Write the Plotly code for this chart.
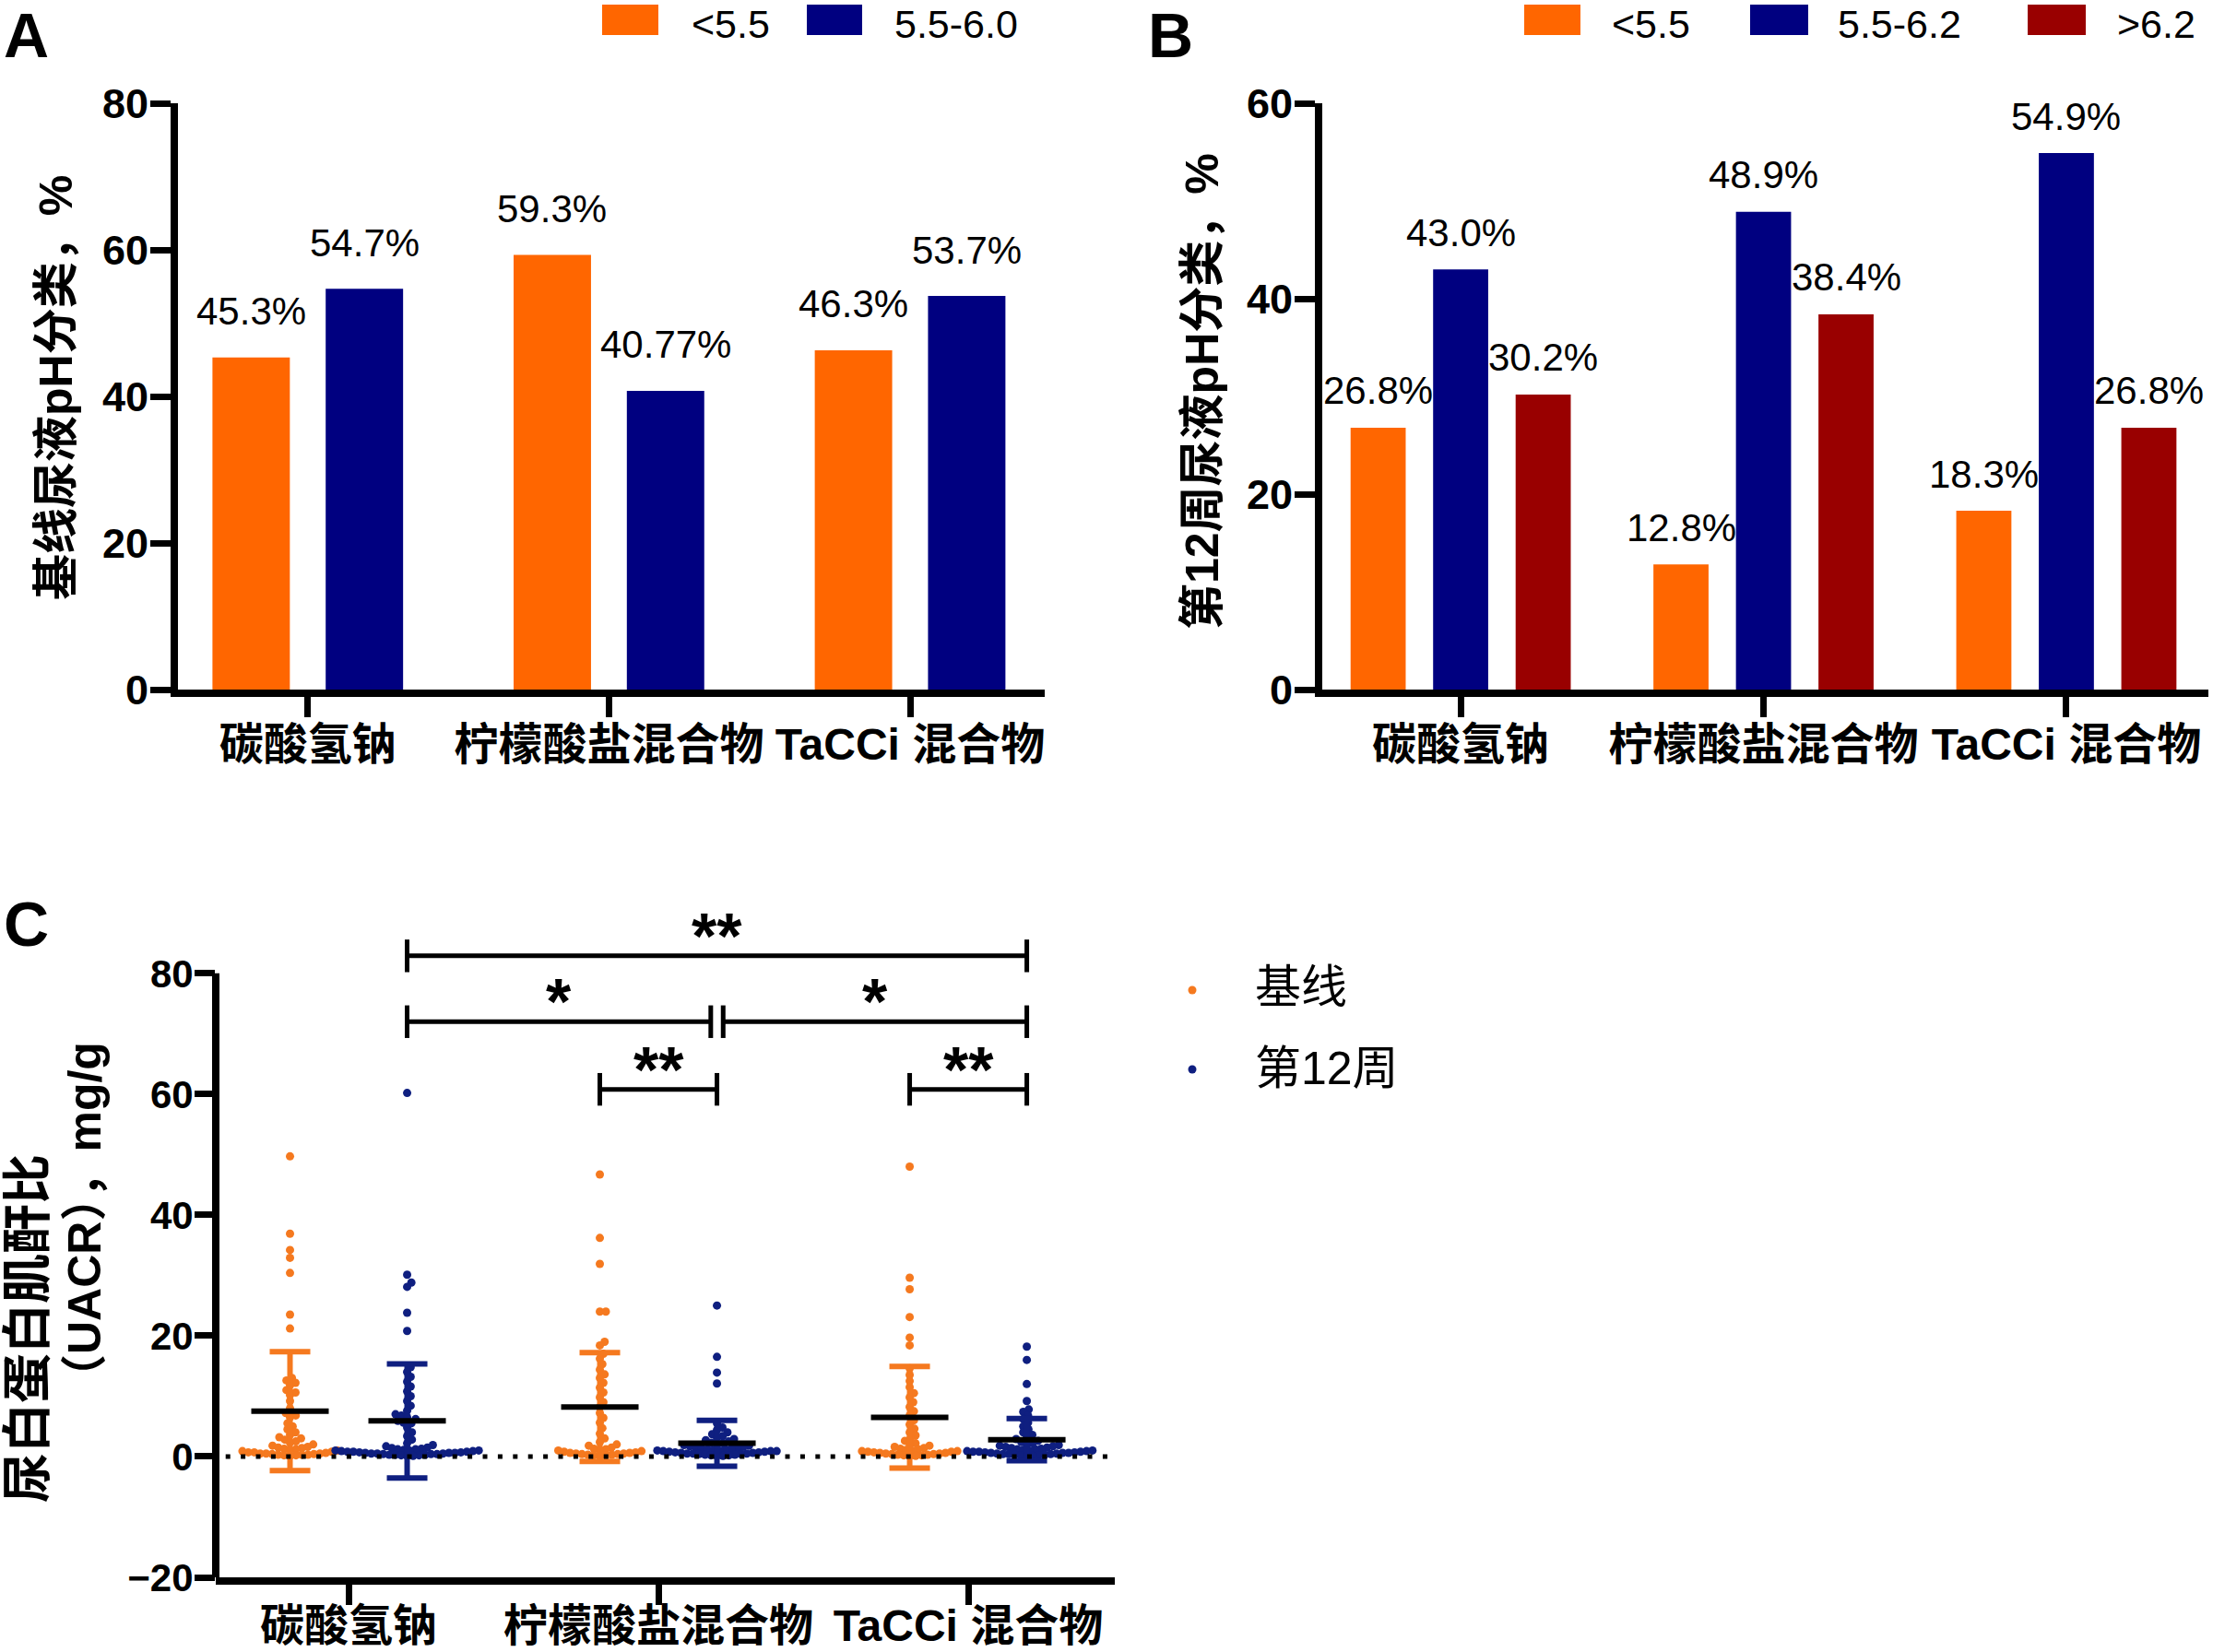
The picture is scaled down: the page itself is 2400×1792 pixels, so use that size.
import numpy as np
import plotly.graph_objects as go

W, H = 2400, 1792
FONT = "Liberation Sans, Arial, Noto Sans CJK SC, sans-serif"

# ---------------- data ----------------
categories = ["碳酸氢钠", "柠檬酸盐混合物", "TaCCi 混合物"]

a_series = ["<5.5", "5.5-6.0"]
a_lt55 = [45.3, 59.3, 46.3]
a_55_60 = [54.7, 40.77, 53.7]
a_ticks = [0, 20, 40, 60, 80]

b_series = ["<5.5", "5.5-6.2", ">6.2"]
b_lt55 = [26.8, 12.8, 18.3]
b_55_62 = [43.0, 48.9, 54.9]
b_gt62 = [30.2, 38.4, 26.8]
b_ticks = [0, 20, 40, 60]

c_series = ["基线", "第12周"]
c_ticks = [-20, 0, 20, 40, 60, 80]
c_base_0 = [49.7, 36.9, 34.2, 32.9, 30.4, 23.5, 21.2,
            13.0, 12.6, 12.2, 11.8, 11.0, 10.6, 10.2, 9.2, 8.0, 7.2, 6.8, 6.5, 5.5, 5.0, 4.5,
            4.0, 3.6, 3.2, 3.0, 2.8, 2.5, 2.3, 2.0, 1.8, 1.6, 1.5, 1.4, 1.3, 1.2, 1.1, 1.0,
            0.9, 0.8, 0.7, 0.7, 0.6, 0.5, 0.5, 0.5, 0.4, 0.4, 0.3, 0.3, 0.3, 0.2, 0.2, 0.1]
c_w12_0 = [60.2, 30.1, 28.8, 28.1, 23.8, 20.8,
           14.8, 14.0, 13.2, 12.4, 11.6, 10.8, 10.0, 9.2, 8.4, 7.6, 7.0, 6.8, 6.5, 6.2, 5.9,
           5.6, 5.5, 4.8, 4.0, 3.4, 2.8,
           2.2, 1.9, 1.7, 1.5, 1.4, 1.3, 1.2, 1.2, 1.1, 1.0, 1.0, 1.0, 0.9, 0.9, 0.8, 0.8, 0.8,
           0.7, 0.7, 0.6, 0.6, 0.6, 0.5, 0.5, 0.5, 0.4, 0.4, 0.4, 0.3, 0.3, 0.3, 0.2, 0.2,
           0.1, 0.1]
c_base_1 = [46.7, 36.2, 31.9, 24.0, 24.0, 19.0, 18.4,
            17.0, 16.2, 15.3, 14.4, 13.6, 13.0, 12.2, 11.4, 10.6, 9.8, 9.0, 8.2, 7.2, 6.4,
            5.6, 4.7, 3.8, 3.0,
            2.4, 2.0, 1.8, 1.5, 1.3, 1.2, 1.1, 1.0, 0.9, 0.8, 0.7, 0.6, 0.6, 0.5, 0.5, 0.4,
            0.4, 0.3, 0.3, 0.2, 0.2, 0.1]
c_w12_1 = [25.0, 16.5, 13.9, 12.1,
           5.5, 4.8, 4.4, 4.0, 3.7, 3.4, 3.1, 2.9, 2.7, 2.5, 2.3, 2.2, 2.0, 1.9, 1.8, 1.7,
           1.6, 1.5, 1.4, 1.4, 1.3, 1.2, 1.2, 1.1, 1.0, 1.0, 0.9, 0.9, 0.9, 0.8, 0.8, 0.7,
           0.7, 0.6, 0.6, 0.5, 0.5, 0.5, 0.4, 0.4, 0.3, 0.3, 0.2, 0.2, 0.1, 0.1]
c_base_2 = [48.0, 29.6, 27.7, 23.1, 19.7, 18.4,
            14.6, 13.5, 12.5, 11.5, 10.5, 9.8, 9.0, 8.2, 7.5, 6.8, 6.0, 5.3, 4.6, 4.0, 3.5,
            3.0, 2.6, 2.2, 2.0, 1.8, 1.6, 1.4, 1.3, 1.2, 1.1, 1.0, 0.9, 0.9, 0.8, 0.8, 0.7,
            0.6, 0.6, 0.5, 0.5, 0.4, 0.4, 0.3, 0.3, 0.2, 0.2, 0.1, 0.1]
c_w12_2 = [18.2, 16.0, 12.0, 9.2, 7.8, 7.4, 6.8, 6.2, 5.6, 5.0, 4.5, 4.0, 3.6, 3.2, 2.9,
           2.6, 2.4, 2.2, 2.0, 1.9, 1.8, 1.7, 1.6, 1.5, 1.4, 1.3, 1.2, 1.2, 1.1, 1.0, 1.0,
           0.9, 0.9, 0.8, 0.8, 0.8, 0.7, 0.7, 0.6, 0.6, 0.6, 0.5, 0.5, 0.4, 0.4, 0.4, 0.3,
           0.3, 0.2, 0.2, 0.1, 0.1]
c_base_mean = [7.5, 8.2, 6.5]
c_base_sd = [9.85, 9.0, 8.4]
c_w12_mean = [5.9, 2.2, 2.8]
c_w12_sd = [9.45, 3.8, 3.5]

# significance: (group a, series a, group b, series b, level, label, nudge a, nudge b)
sig_brackets = [
    (0, 1, 2, 1, 82.9, "**", 0.0, 0.0),
    (0, 1, 1, 1, 72.0, "*", 0.0, -0.02),
    (1, 1, 2, 1, 72.0, "*", 0.02, 0.0),
    (1, 0, 1, 1, 60.8, "**", 0.0, 0.0),
    (2, 0, 2, 1, 60.8, "**", 0.0, 0.0),
]

# ---------------- style ----------------
ORANGE = "#FF6600"
NAVY = "#000080"
DARKRED = "#990000"
DOT_OR = "#F5791F"
DOT_NV = "#0F1F80"
LW = 8


def px(xp):
    return xp / W


def py(yp):
    return 1 - yp / H


fig = go.Figure()
idx = np.arange(len(categories))

# ---------------- Panel A ----------------
a_off = [-0.188, 0.188]
a_w = 0.257
for vals, name, col, off in zip([a_lt55, a_55_60], a_series, [ORANGE, NAVY], a_off):
    fig.add_trace(go.Bar(x=idx, y=vals, offset=off - a_w / 2, width=a_w, name=name,
                         marker=dict(color=col, line=dict(width=0)), xaxis="x", yaxis="y",
                         showlegend=False))
    for i, v in zip(idx, vals):
        fig.add_annotation(x=i + off, y=v, xref="x", yref="y", text=f"{v}%", showarrow=False,
                           yanchor="middle", yshift=50, font=dict(family=FONT, size=42, color="black"))

# ---------------- Panel B ----------------
b_off = [-0.2725, 0.0, 0.2725]
b_w = 0.182
for vals, name, col, off in zip([b_lt55, b_55_62, b_gt62], b_series, [ORANGE, NAVY, DARKRED], b_off):
    fig.add_trace(go.Bar(x=idx, y=vals, offset=off - b_w / 2, width=b_w, name=name,
                         marker=dict(color=col, line=dict(width=0)), xaxis="x2", yaxis="y2",
                         showlegend=False))
    for i, v in zip(idx, vals):
        fig.add_annotation(x=i + off, y=v, xref="x2", yref="y2", text=f"{v}%", showarrow=False,
                           yanchor="middle", yshift=40, font=dict(family=FONT, size=42, color="black"))

# ---------------- Panel C ----------------
c_off = [-0.189, 0.189]
Y_PX = 6.55   # px per data unit (y)
X_PX = 336.0  # px per group unit (x)
D = 6.5       # swarm spacing px


def swarm(vals):
    vals = np.asarray(vals, dtype=float)
    order = np.argsort(vals, kind="stable")
    placed = []
    out = np.zeros(len(vals))
    for i in order:
        y = vals[i] * Y_PX
        forb = []
        for (xp, yp) in placed:
            dy = abs(yp - y)
            if dy < D:
                w = np.sqrt(D * D - dy * dy)
                forb.append((xp - w, xp + w))
        cands = [0.0] + [a for a, b in forb] + [b for a, b in forb]
        cands.sort(key=lambda c: (round(abs(c), 6), -c))
        xsel = 0.0
        for c in cands:
            if all(not (a + 1e-6 < c < b - 1e-6) for a, b in forb):
                xsel = c
                break
        placed.append((xsel, y))
        out[i] = xsel / X_PX
    return out


groups = [[c_base_0, c_base_1, c_base_2], [c_w12_0, c_w12_1, c_w12_2]]
means = [c_base_mean, c_w12_mean]
sds = [c_base_sd, c_w12_sd]
dcols = [DOT_OR, DOT_NV]
for s in range(2):
    xs, ys = [], []
    for g in range(3):
        v = groups[s][g]
        dx = swarm(v)
        xs.extend(list(g + c_off[s] + dx))
        ys.extend(v)
    fig.add_trace(go.Scatter(x=xs, y=ys, mode="markers", name=c_series[s],
                             marker=dict(size=9, color=dcols[s], line=dict(width=0)),
                             xaxis="x3", yaxis="y3", showlegend=False, cliponaxis=False))
for s in range(2):
    fig.add_trace(go.Scatter(x=idx + c_off[s], y=means[s], mode="markers",
                             marker=dict(size=1, color="rgba(0,0,0,0)"),
                             error_y=dict(type="data", array=sds[s], symmetric=True,
                                          thickness=6, width=22, color=dcols[s]),
                             xaxis="x3", yaxis="y3", showlegend=False))
for s in range(2):
    fig.add_trace(go.Scatter(x=idx + c_off[s], y=means[s], mode="markers",
                             marker=dict(symbol="line-ew", size=60, color="black",
                                         line=dict(width=6, color="black")),
                             xaxis="x3", yaxis="y3", showlegend=False))

shapes = []
# y-axis line of C (stops at 80)
shapes.append(dict(type="line", xref="x3 domain", yref="y3", x0=0, x1=0, y0=c_ticks[0], y1=c_ticks[-1],
                   line=dict(color="black", width=LW)))
# dotted zero line
shapes.append(dict(type="line", xref="x3 domain", yref="y3", x0=0.011, x1=0.992, y0=0, y1=0,
                   line=dict(color="black", width=5, dash="5px,11.4px")))
TICK_H = 2.7
for ga, sa, gb, sb, lvl, lab, na, nb in sig_brackets:
    xa = ga + c_off[sa] + na
    xb = gb + c_off[sb] + nb
    for (x0, x1, y0, y1) in [(xa, xb, lvl, lvl), (xa, xa, lvl - TICK_H, lvl + TICK_H),
                             (xb, xb, lvl - TICK_H, lvl + TICK_H)]:
        shapes.append(dict(type="line", xref="x3", yref="y3", x0=x0, x1=x1, y0=y0, y1=y1,
                           line=dict(color="black", width=5)))
    fig.add_annotation(x=(xa + xb) / 2, y=lvl, xref="x3", yref="y3", text=lab, showarrow=False,
                       yanchor="middle", yshift=21,
                       font=dict(family=FONT, size=70, color="black", weight="bold"))

# ---------------- legends (manual) ----------------
def legend_rect(x0, x1, col):
    shapes.append(dict(type="rect", xref="paper", yref="paper", x0=px(x0), x1=px(x1),
                       y0=py(38), y1=py(5), fillcolor=col, line=dict(width=0)))


def legend_text(x, y, t, size=43):
    fig.add_annotation(x=px(x), y=py(y), xref="paper", yref="paper", text=t, showarrow=False,
                       xanchor="left", yanchor="middle", font=dict(family=FONT, size=size, color="black"))


legend_rect(653, 714, ORANGE); legend_text(748, 26, a_series[0])
legend_rect(875, 935, NAVY); legend_text(968, 26, a_series[1])
legend_rect(1653, 1714, ORANGE); legend_text(1746, 26, b_series[0])
legend_rect(1898, 1961, NAVY); legend_text(1991, 26, b_series[1])
legend_rect(2199, 2262, DARKRED); legend_text(2294, 26, b_series[2])

for (cx, cy, col) in [(1293, 1074, DOT_OR), (1293, 1160, DOT_NV)]:
    shapes.append(dict(type="circle", xref="paper", yref="paper", x0=px(cx - 4.5), x1=px(cx + 4.5),
                       y0=py(cy + 4.5), y1=py(cy - 4.5), fillcolor=col, line=dict(width=0)))
legend_text(1359, 1071, c_series[0], size=50)
legend_text(1359, 1159, c_series[1], size=50)

# panel letters
for (lx, ly, t) in [(2, 38, "A"), (1243, 38, "B"), (2, 1002, "C")]:
    fig.add_annotation(x=px(lx), y=py(ly), xref="paper", yref="paper", text=t, showarrow=False,
                       xanchor="left", yanchor="middle",
                       font=dict(family=FONT, size=68, color="black", weight="bold"))

# axis titles
for (tx, ty, t, size) in [(61, 421, "基线尿液pH分类，%", 50),
                          (1304, 425, "第12周尿液pH分类，%", 50),
                          (30, 1441, "尿白蛋白肌酐比", 54),
                          (92, 1325, "（UACR），mg/g", 50)]:
    fig.add_annotation(x=px(tx), y=py(ty), xref="paper", yref="paper", text=t, showarrow=False,
                       textangle=-90, xanchor="center", yanchor="middle",
                       font=dict(family=FONT, size=size, color="black", weight="bold"))

# ---------------- axes ----------------
xtickfont = dict(family=FONT, size=48, color="black", weight="bold")
common_x = dict(tickvals=list(idx), ticktext=categories, ticks="outside", ticklen=22,
                tickwidth=7, tickcolor="black", showline=True, linewidth=LW, linecolor="black",
                showgrid=False, zeroline=False, tickfont=xtickfont, fixedrange=True,
                automargin=False)
common_y = dict(ticks="outside", ticklen=22, tickwidth=7, tickcolor="black", linecolor="black",
                linewidth=LW, showgrid=False, zeroline=False, fixedrange=True,
                automargin=False, ticklabelstandoff=-7)

fig.update_layout(
    template="none",
    width=W, height=H, margin=dict(l=0, r=0, t=0, b=0, pad=0),
    paper_bgcolor="white", plot_bgcolor="white", barmode="overlay", showlegend=False,
    font=dict(family=FONT, color="black"),
    xaxis=dict(domain=[px(193), px(1133)], range=[-0.431, 2.447], anchor="y",
               ticklabelstandoff=-12, **common_x),
    yaxis=dict(domain=[py(748), py(112)], range=[0, 80], tickvals=a_ticks, anchor="x",
               showline=True, tickfont=dict(family=FONT, size=45, color="black", weight="bold"),
               **common_y),
    xaxis2=dict(domain=[px(1434), px(2395)], range=[-0.457, 2.469], anchor="y2",
                ticklabelstandoff=-12, **common_x),
    yaxis2=dict(domain=[py(748), py(112)], range=[0, 60], tickvals=b_ticks, anchor="x2",
                showline=True, tickfont=dict(family=FONT, size=45, color="black", weight="bold"),
                **common_y),
    xaxis3=dict(domain=[px(234), px(1209)], range=[-0.4286, 2.473], anchor="y3",
                ticklabelstandoff=-19, **common_x),
    yaxis3=dict(domain=[py(1711), py(1010)], range=[-20, 87], tickvals=c_ticks, anchor="x3",
                showline=False, tickfont=dict(family=FONT, size=42, color="black", weight="bold"),
                **common_y),
    shapes=shapes,
)

fig.write_html("out.html", config={"displayModeBar": False},
               post_script="document.body.style.margin='0';document.body.style.overflow='hidden';")
